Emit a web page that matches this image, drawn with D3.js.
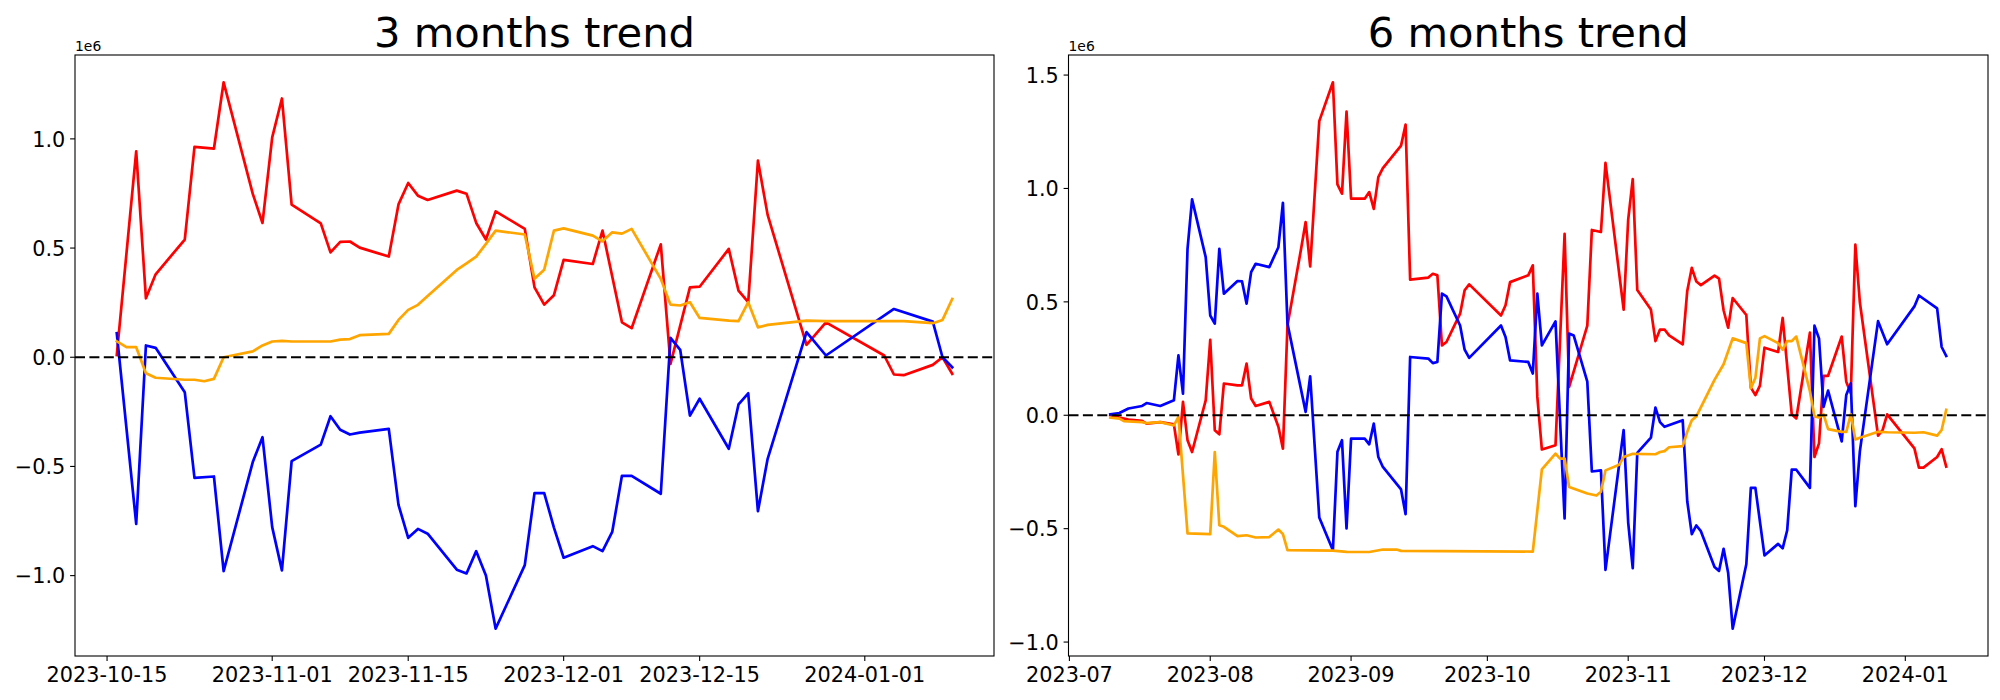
<!DOCTYPE html>
<html><head><meta charset="utf-8">
<script src="https://cdn.jsdelivr.net/npm/d3@7/dist/d3.min.js"></script>
<style>body{margin:0;background:#fff}svg{display:block}text{font-family:"DejaVu Sans",sans-serif}</style>
</head><body>
<svg id="c" width="2000" height="700"></svg>
<script>
// values in units of 1e6
const red3m = [["2023-10-16",0.01],["2023-10-18",0.943],["2023-10-19",0.27],["2023-10-20",0.38],["2023-10-23",0.539],["2023-10-24",0.963],["2023-10-26",0.955],["2023-10-27",1.259],["2023-10-30",0.748],["2023-10-31",0.615],["2023-11-01",1.007],["2023-11-02",1.185],["2023-11-03",0.699],["2023-11-06",0.613],["2023-11-07",0.48],["2023-11-08",0.528],["2023-11-09",0.53],["2023-11-10",0.502],["2023-11-13",0.461],["2023-11-14",0.70],["2023-11-15",0.798],["2023-11-16",0.74],["2023-11-17",0.72],["2023-11-20",0.763],["2023-11-21",0.749],["2023-11-22",0.615],["2023-11-23",0.539],["2023-11-24",0.668],["2023-11-27",0.588],["2023-11-28",0.32],["2023-11-29",0.241],["2023-11-30",0.284],["2023-12-01",0.446],["2023-12-04",0.427],["2023-12-05",0.58],["2023-12-07",0.16],["2023-12-08",0.133],["2023-12-11",0.517],["2023-12-12",-0.03],["2023-12-14",0.32],["2023-12-15",0.323],["2023-12-18",0.496],["2023-12-19",0.305],["2023-12-20",0.252],["2023-12-21",0.90],["2023-12-22",0.652],["2023-12-26",0.057],["2023-12-28",0.16],["2024-01-03",0.008],["2024-01-04",-0.079],["2024-01-05",-0.082],["2024-01-08",-0.035],["2024-01-09",0.0],["2024-01-10",-0.076]];
const blue3m = [["2023-10-16",0.11],["2023-10-18",-0.763],["2023-10-19",0.054],["2023-10-20",0.043],["2023-10-23",-0.16],["2023-10-24",-0.552],["2023-10-26",-0.546],["2023-10-27",-0.979],["2023-10-30",-0.48],["2023-10-31",-0.366],["2023-11-01",-0.778],["2023-11-02",-0.976],["2023-11-03",-0.476],["2023-11-06",-0.40],["2023-11-07",-0.27],["2023-11-08",-0.332],["2023-11-09",-0.354],["2023-11-10",-0.345],["2023-11-13",-0.328],["2023-11-14",-0.676],["2023-11-15",-0.827],["2023-11-16",-0.786],["2023-11-17",-0.808],["2023-11-20",-0.973],["2023-11-21",-0.99],["2023-11-22",-0.888],["2023-11-23",-0.999],["2023-11-24",-1.243],["2023-11-27",-0.952],["2023-11-28",-0.622],["2023-11-29",-0.622],["2023-11-30",-0.78],["2023-12-01",-0.918],["2023-12-04",-0.865],["2023-12-05",-0.888],["2023-12-06",-0.80],["2023-12-07",-0.543],["2023-12-08",-0.543],["2023-12-11",-0.625],["2023-12-12",0.089],["2023-12-13",0.034],["2023-12-14",-0.267],["2023-12-15",-0.19],["2023-12-18",-0.419],["2023-12-19",-0.216],["2023-12-20",-0.165],["2023-12-21",-0.705],["2023-12-22",-0.465],["2023-12-26",0.115],["2023-12-28",0.008],["2024-01-04",0.221],["2024-01-08",0.163],["2024-01-09",0.0],["2024-01-10",-0.046]];
const orange3m = [["2023-10-16",0.073],["2023-10-17",0.046],["2023-10-18",0.046],["2023-10-19",-0.073],["2023-10-20",-0.094],["2023-10-23",-0.103],["2023-10-24",-0.103],["2023-10-25",-0.11],["2023-10-26",-0.099],["2023-10-27",0.0],["2023-10-30",0.027],["2023-10-31",0.054],["2023-11-01",0.072],["2023-11-02",0.075],["2023-11-03",0.072],["2023-11-06",0.072],["2023-11-07",0.072],["2023-11-08",0.081],["2023-11-09",0.083],["2023-11-10",0.101],["2023-11-13",0.107],["2023-11-14",0.171],["2023-11-15",0.217],["2023-11-16",0.24],["2023-11-17",0.28],["2023-11-20",0.40],["2023-11-21",0.43],["2023-11-22",0.461],["2023-11-23",0.519],["2023-11-24",0.58],["2023-11-27",0.562],["2023-11-28",0.359],["2023-11-29",0.401],["2023-11-30",0.58],["2023-12-01",0.59],["2023-12-04",0.557],["2023-12-05",0.531],["2023-12-06",0.572],["2023-12-07",0.566],["2023-12-08",0.588],["2023-12-11",0.359],["2023-12-12",0.241],["2023-12-13",0.237],["2023-12-14",0.252],["2023-12-15",0.18],["2023-12-18",0.168],["2023-12-19",0.165],["2023-12-20",0.252],["2023-12-21",0.137],["2023-12-22",0.148],["2023-12-26",0.168],["2023-12-28",0.165],["2024-01-05",0.165],["2024-01-08",0.156],["2024-01-09",0.171],["2024-01-10",0.267]];

const red6m = [["2023-07-10",0.0],["2023-07-12",-0.01],["2023-07-14",-0.019],["2023-07-17",-0.025],["2023-07-18",-0.037],["2023-07-21",-0.03],["2023-07-24",-0.04],["2023-07-25",-0.173],["2023-07-26",0.059],["2023-07-27",-0.11],["2023-07-28",-0.162],["2023-07-31",0.066],["2023-08-01",0.333],["2023-08-02",-0.066],["2023-08-03",-0.084],["2023-08-04",0.14],["2023-08-07",0.132],["2023-08-08",0.132],["2023-08-09",0.228],["2023-08-10",0.074],["2023-08-11",0.041],["2023-08-14",0.059],["2023-08-16",-0.051],["2023-08-17",-0.147],["2023-08-18",0.396],["2023-08-21",0.734],["2023-08-22",0.852],["2023-08-23",0.656],["2023-08-25",1.297],["2023-08-28",1.468],["2023-08-29",1.018],["2023-08-30",0.977],["2023-08-31",1.339],["2023-09-01",0.955],["2023-09-04",0.955],["2023-09-05",0.984],["2023-09-06",0.91],["2023-09-07",1.05],["2023-09-08",1.09],["2023-09-12",1.189],["2023-09-13",1.282],["2023-09-14",0.598],["2023-09-18",0.607],["2023-09-19",0.624],["2023-09-20",0.617],["2023-09-21",0.308],["2023-09-22",0.323],["2023-09-25",0.448],["2023-09-26",0.551],["2023-09-27",0.577],["2023-10-04",0.44],["2023-10-05",0.485],["2023-10-06",0.587],["2023-10-10",0.617],["2023-10-11",0.661],["2023-10-12",0.081],["2023-10-13",-0.151],["2023-10-16",-0.132],["2023-10-18",0.80],["2023-10-19",0.125],["2023-10-23",0.395],["2023-10-24",0.817],["2023-10-26",0.808],["2023-10-27",1.113],["2023-10-31",0.466],["2023-11-01",0.863],["2023-11-02",1.041],["2023-11-03",0.552],["2023-11-06",0.466],["2023-11-07",0.327],["2023-11-08",0.378],["2023-11-09",0.378],["2023-11-10",0.352],["2023-11-13",0.313],["2023-11-14",0.548],["2023-11-15",0.65],["2023-11-16",0.59],["2023-11-17",0.574],["2023-11-20",0.616],["2023-11-21",0.602],["2023-11-22",0.463],["2023-11-23",0.386],["2023-11-24",0.517],["2023-11-27",0.442],["2023-11-28",0.122],["2023-11-29",0.089],["2023-11-30",0.131],["2023-12-01",0.298],["2023-12-04",0.279],["2023-12-05",0.429],["2023-12-07",0.004],["2023-12-08",-0.014],["2023-12-11",0.364],["2023-12-12",-0.184],["2023-12-13",-0.124],["2023-12-14",0.174],["2023-12-15",0.174],["2023-12-18",0.347],["2023-12-19",0.148],["2023-12-20",0.097],["2023-12-21",0.752],["2023-12-22",0.497],["2023-12-26",-0.09],["2023-12-27",-0.065],["2023-12-28",0.004],["2024-01-03",-0.146],["2024-01-04",-0.231],["2024-01-05",-0.231],["2024-01-08",-0.184],["2024-01-09",-0.15],["2024-01-10",-0.226]];
const blue6m = [["2023-07-10",0.004],["2023-07-12",0.01],["2023-07-14",0.03],["2023-07-17",0.041],["2023-07-18",0.054],["2023-07-21",0.041],["2023-07-24",0.066],["2023-07-25",0.264],["2023-07-26",0.095],["2023-07-27",0.734],["2023-07-28",0.952],["2023-07-31",0.697],["2023-08-01",0.44],["2023-08-02",0.404],["2023-08-03",0.734],["2023-08-04",0.536],["2023-08-07",0.592],["2023-08-08",0.59],["2023-08-09",0.492],["2023-08-10",0.631],["2023-08-11",0.668],["2023-08-14",0.653],["2023-08-16",0.741],["2023-08-17",0.937],["2023-08-18",0.404],["2023-08-22",0.015],["2023-08-23",0.172],["2023-08-25",-0.451],["2023-08-28",-0.595],["2023-08-29",-0.161],["2023-08-30",-0.11],["2023-08-31",-0.499],["2023-09-01",-0.103],["2023-09-04",-0.103],["2023-09-05",-0.128],["2023-09-06",-0.037],["2023-09-07",-0.184],["2023-09-08",-0.228],["2023-09-12",-0.327],["2023-09-13",-0.436],["2023-09-14",0.257],["2023-09-18",0.25],["2023-09-19",0.23],["2023-09-20",0.235],["2023-09-21",0.536],["2023-09-22",0.524],["2023-09-25",0.396],["2023-09-26",0.289],["2023-09-27",0.253],["2023-10-04",0.396],["2023-10-05",0.345],["2023-10-06",0.242],["2023-10-10",0.235],["2023-10-11",0.184],["2023-10-12",0.536],["2023-10-13",0.308],["2023-10-16",0.414],["2023-10-18",-0.455],["2023-10-19",0.36],["2023-10-20",0.352],["2023-10-23",0.148],["2023-10-24",-0.248],["2023-10-26",-0.243],["2023-10-27",-0.682],["2023-10-30",-0.218],["2023-10-31",-0.065],["2023-11-01",-0.473],["2023-11-02",-0.674],["2023-11-03",-0.166],["2023-11-06",-0.099],["2023-11-07",0.034],["2023-11-08",-0.03],["2023-11-09",-0.051],["2023-11-13",-0.022],["2023-11-14",-0.379],["2023-11-15",-0.524],["2023-11-16",-0.486],["2023-11-17",-0.511],["2023-11-20",-0.669],["2023-11-21",-0.686],["2023-11-22",-0.589],["2023-11-23",-0.694],["2023-11-24",-0.941],["2023-11-27",-0.657],["2023-11-28",-0.32],["2023-11-29",-0.32],["2023-12-01",-0.618],["2023-12-04",-0.567],["2023-12-05",-0.587],["2023-12-06",-0.507],["2023-12-07",-0.24],["2023-12-08",-0.24],["2023-12-11",-0.32],["2023-12-12",0.395],["2023-12-13",0.339],["2023-12-14",0.037],["2023-12-15",0.109],["2023-12-18",-0.115],["2023-12-19",0.089],["2023-12-20",0.14],["2023-12-21",-0.401],["2023-12-22",-0.158],["2023-12-26",0.415],["2023-12-28",0.313],["2024-01-03",0.48],["2024-01-04",0.528],["2024-01-08",0.471],["2024-01-09",0.301],["2024-01-10",0.262]];
const orange6m = [["2023-07-10",-0.01],["2023-07-12",-0.015],["2023-07-13",-0.026],["2023-07-17",-0.03],["2023-07-18",-0.035],["2023-07-21",-0.03],["2023-07-24",-0.045],["2023-07-25",-0.007],["2023-07-27",-0.521],["2023-08-01",-0.524],["2023-08-02",-0.162],["2023-08-03",-0.485],["2023-08-04",-0.492],["2023-08-07",-0.533],["2023-08-09",-0.529],["2023-08-11",-0.539],["2023-08-14",-0.537],["2023-08-16",-0.504],["2023-08-17",-0.524],["2023-08-18",-0.595],["2023-08-28",-0.597],["2023-08-31",-0.602],["2023-09-05",-0.603],["2023-09-08",-0.592],["2023-09-11",-0.592],["2023-09-12",-0.598],["2023-10-11",-0.601],["2023-10-13",-0.239],["2023-10-16",-0.169],["2023-10-17",-0.191],["2023-10-18",-0.191],["2023-10-19",-0.316],["2023-10-23",-0.345],["2023-10-25",-0.354],["2023-10-26",-0.337],["2023-10-27",-0.243],["2023-10-30",-0.218],["2023-10-31",-0.184],["2023-11-02",-0.17],["2023-11-07",-0.172],["2023-11-08",-0.162],["2023-11-09",-0.158],["2023-11-10",-0.141],["2023-11-13",-0.136],["2023-11-14",-0.073],["2023-11-15",-0.022],["2023-11-16",-0.005],["2023-11-20",0.156],["2023-11-22",0.225],["2023-11-24",0.339],["2023-11-27",0.318],["2023-11-28",0.119],["2023-11-29",0.165],["2023-11-30",0.339],["2023-12-01",0.349],["2023-12-04",0.318],["2023-12-05",0.289],["2023-12-06",0.327],["2023-12-07",0.327],["2023-12-08",0.347],["2023-12-11",0.106],["2023-12-12",-0.005],["2023-12-13",-0.01],["2023-12-14",0.004],["2023-12-15",-0.061],["2023-12-18",-0.073],["2023-12-19",-0.073],["2023-12-20",0.004],["2023-12-21",-0.107],["2023-12-22",-0.099],["2023-12-26",-0.073],["2023-12-28",-0.075],["2024-01-03",-0.077],["2024-01-05",-0.075],["2024-01-08",-0.09],["2024-01-09",-0.065],["2024-01-10",0.024]];

const ticks3m = ["2023-10-15","2023-11-01","2023-11-15","2023-12-01","2023-12-15","2024-01-01"];
const ticks6m = ["2023-07-01","2023-08-01","2023-09-01","2023-10-01","2023-11-01","2023-12-01","2024-01-01"];
const yticks3m = [-1.0,-0.5,0.0,0.5,1.0];
const yticks6m = [-1.0,-0.5,0.0,0.5,1.0,1.5];
const titles = ["3 months trend","6 months trend"];
const colors = ["red","blue","orange"];

(function(){
const parse = d3.utcParse("%Y-%m-%d");
const svg = d3.select("#c");
const yTop = 55, yBot = 656;
const panels = [
  {title:titles[0], x0:75, x1:994, series:[red3m,blue3m,orange3m], xt:ticks3m, fmt:d3.utcFormat("%Y-%m-%d"), yt:yticks3m},
  {title:titles[1], x0:1068.5, x1:1988, series:[red6m,blue6m,orange6m], xt:ticks6m, fmt:d3.utcFormat("%Y-%m"), yt:yticks6m}
];
const minus = s => s.replace("-", "\u2212");

panels.forEach(p => {
  const all = p.series.flat();
  const [dmin, dmax] = d3.extent(all, d => parse(d[0]));
  const span = dmax - dmin;
  const x = d3.scaleUtc().domain([new Date(+dmin - span*0.05), new Date(+dmax + span*0.05)]).range([p.x0, p.x1]);
  const [vmin, vmax] = d3.extent(all, d => d[1]);
  const vs = vmax - vmin;
  const y = d3.scaleLinear().domain([vmin - vs*0.05, vmax + vs*0.05]).range([yBot, yTop]);
  const g = svg.append("g");
  const line = d3.line().x(d => x(parse(d[0]))).y(d => y(d[1]));
  p.series.forEach((s, i) => {
    g.append("path").attr("d", line(s)).attr("fill","none").attr("stroke", colors[i])
     .attr("stroke-width", 2.7).attr("stroke-linejoin","round").attr("stroke-linecap","square");
  });
  g.append("line").attr("x1", p.x0).attr("x2", p.x1).attr("y1", y(0)).attr("y2", y(0))
   .attr("stroke","black").attr("stroke-width",2.2).attr("stroke-dasharray","10,4.4");
  g.append("rect").attr("x", p.x0).attr("y", yTop).attr("width", p.x1-p.x0).attr("height", yBot-yTop)
   .attr("fill","none").attr("stroke","black").attr("stroke-width",1.1);
  p.xt.forEach(t => {
    const px = x(parse(t));
    g.append("line").attr("x1",px).attr("x2",px).attr("y1",yBot).attr("y2",yBot+4.9).attr("stroke","black").attr("stroke-width",1.1);
    g.append("text").attr("x",px).attr("y",yBot+25.5).attr("text-anchor","middle").attr("font-size",20.8).text(p.fmt(parse(t)));
  });
  p.yt.forEach(t => {
    const py = y(t);
    g.append("line").attr("x1",p.x0-4.9).attr("x2",p.x0).attr("y1",py).attr("y2",py).attr("stroke","black").attr("stroke-width",1.1);
    g.append("text").attr("x",p.x0-9.7).attr("y",py+7.8).attr("text-anchor","end").attr("font-size",20.8).text(minus(t.toFixed(1)));
  });
  g.append("text").attr("x",p.x0).attr("y",yTop-4.5).attr("font-size",13.9).text("1e6");
  g.append("text").attr("x",(p.x0+p.x1)/2).attr("y",yTop-8.3).attr("text-anchor","middle").attr("font-size",41.7).text(p.title);
});
})();
</script>
</body></html>
